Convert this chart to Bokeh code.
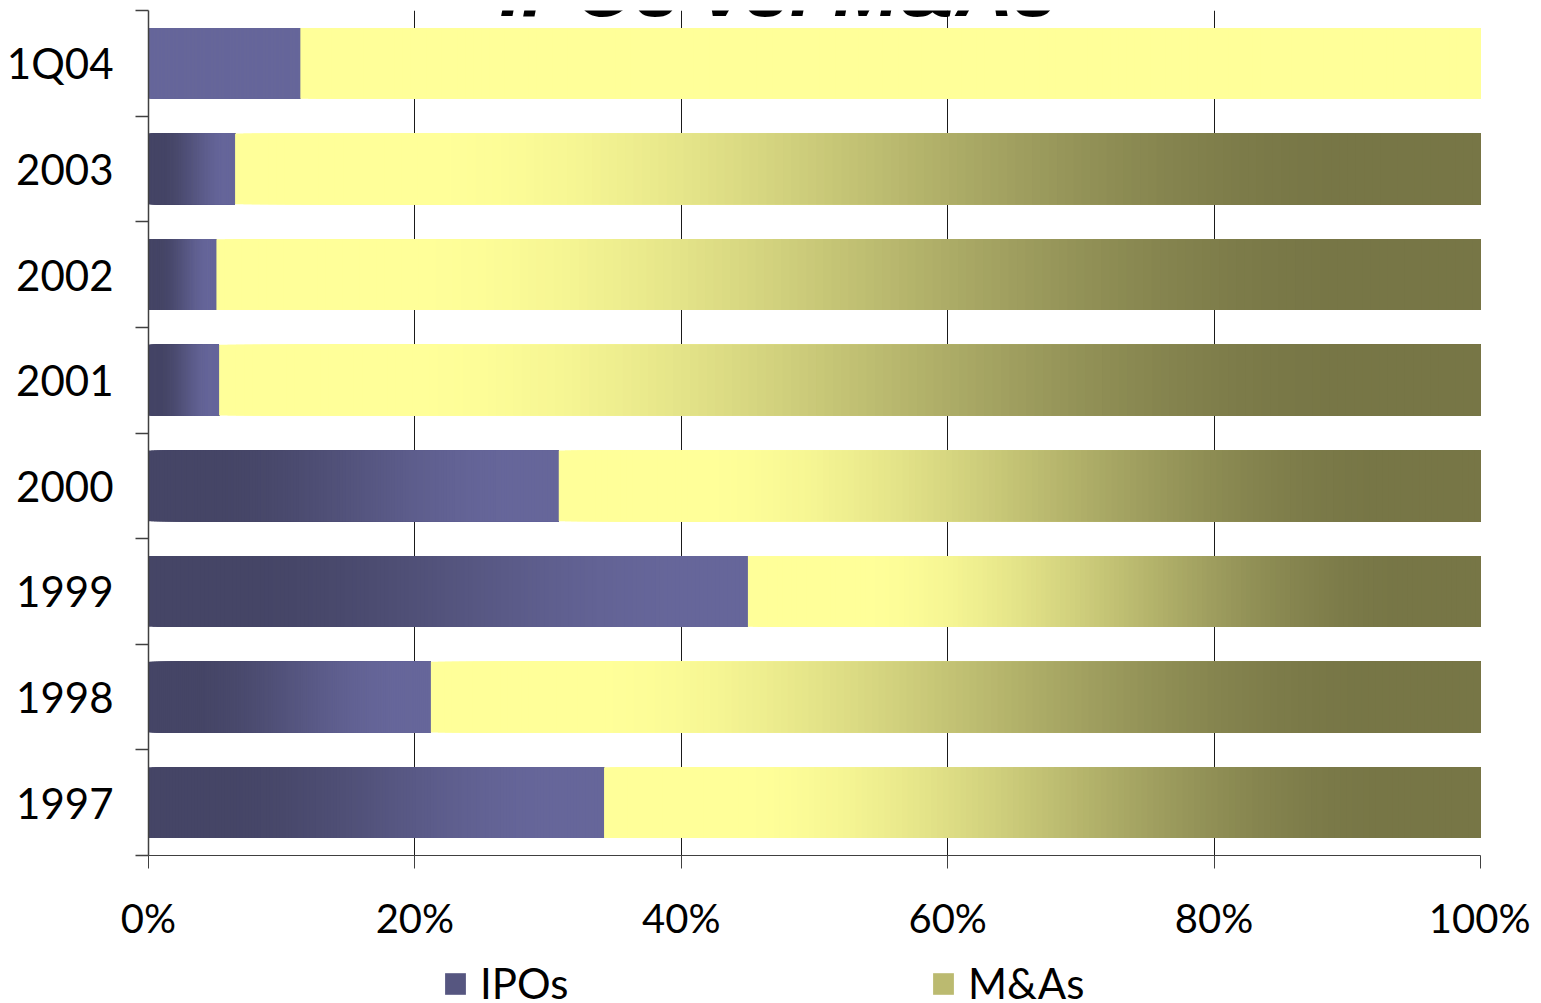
from bokeh.plotting import figure
from bokeh.layouts import column
from bokeh.models import Range1d, FixedTicker, Label, Legend, LegendItem, ColumnDataSource
from bokeh.embed import file_html
from bokeh.resources import INLINE

# ---- data -------------------------------------------------------------
categories = ["1997", "1998", "1999", "2000", "2001", "2002", "2003", "1Q04"]
ipo_share = [34.2, 21.2, 45.0, 30.8, 5.3, 5.1, 6.5, 11.4]
ma_share = [65.8, 78.8, 55.0, 69.2, 94.7, 94.9, 93.5, 88.6]
gradient_fill = [True, True, True, True, True, True, True, False]
x_ticks = [0, 20, 40, 60, 80, 100]
x_tick_labels = ["0%", "20%", "40%", "60%", "80%", "100%"]
title_text = "IPOs vs. M&As"
series_names = ["IPOs", "M&As"]

# ---- styles -----------------------------------------------------------
IPO_DARK = (69, 69, 102)
IPO_LIGHT = (102, 102, 154)
MA_LIGHT = (255, 255, 153)
MA_DARK = (119, 118, 70)
N_STEPS = 150
BAR_H = 0.67
W = 1530


def hexc(c):
    return "#%02x%02x%02x" % tuple(int(round(v)) for v in c)


def ease(t):
    s = min(max((t - 0.15) / 0.75, 0.0), 1.0)
    return 3 * s * s - 2 * s * s * s


def mix(c0, c1, t):
    return tuple(a + (b - a) * t for a, b in zip(c0, c1))


def gradient_source(starts, widths, c0, c1, flat, grads):
    d = dict(y=[], left=[], right=[], color=[])
    for i, (s, w, g) in enumerate(zip(starts, widths, grads)):
        for k in range(N_STEPS):
            t = (k + 0.5) / N_STEPS
            d["y"].append(i + 0.5)
            d["left"].append(s + w * k / N_STEPS)
            d["right"].append(s + w)
            d["color"].append(hexc(mix(c0, c1, ease(t))) if g else hexc(flat))
    return ColumnDataSource(d)


ipo_src = gradient_source([0] * len(ipo_share), ipo_share, IPO_DARK, IPO_LIGHT, IPO_LIGHT, gradient_fill)
ma_src = gradient_source(ipo_share, ma_share, MA_LIGHT, MA_DARK, MA_LIGHT, gradient_fill)

p = figure(width=W, height=955, output_backend="svg", toolbar_location=None,
           x_range=Range1d(0, 100), y_range=Range1d(0, len(categories)),
           min_border_left=148, min_border_right=W - 1480, min_border_top=10, min_border_bottom=100)
p.title = None
p.outline_line_color = None
p.background_fill_color = "white"

r_ipo = p.hbar(y="y", left="left", right="right", height=BAR_H, fill_color="color",
               line_color=None, source=ipo_src)
r_ma = p.hbar(y="y", left="left", right="right", height=BAR_H, fill_color="color",
              line_color=None, source=ma_src)

# grid
p.xgrid.ticker = FixedTicker(ticks=x_ticks)
p.xgrid.grid_line_color = "#1a1a1a"
p.xgrid.grid_line_width = 1
p.ygrid.grid_line_color = None

# x axis
xa = p.xaxis[0]
xa.ticker = FixedTicker(ticks=x_ticks)
xa.major_label_overrides = {t: l for t, l in zip(x_ticks, x_tick_labels)}
xa.axis_line_color = "#404040"
xa.major_tick_line_color = "#404040"
xa.major_tick_in = 0
xa.major_tick_out = 13
xa.minor_tick_line_color = None
xa.major_label_text_font = "Lato"
xa.major_label_text_font_size = "40px"
xa.major_label_text_color = "black"
xa.major_label_standoff = 25

# y axis
ya = p.yaxis[0]
centers = [i + 0.5 for i in range(len(categories))]
bounds = list(range(len(categories) + 1))
ya.ticker = FixedTicker(ticks=centers, minor_ticks=bounds)
ya.major_label_overrides = {c: n for c, n in zip(centers, categories)}
ya.axis_line_color = "#404040"
ya.axis_line_width = 1.5
ya.major_tick_in = 0
ya.major_tick_out = 0
ya.minor_tick_in = 0
ya.minor_tick_out = 13
ya.minor_tick_line_color = "#404040"
ya.minor_tick_line_width = 1.5
ya.major_label_text_font = "Lato"
ya.major_label_text_font_size = "42px"
ya.major_label_text_color = "black"
ya.major_label_standoff = 22

# title (partly cut off at the top, as in the original)
p.add_layout(Label(x=47.3, y=len(categories) + 0.21, text=title_text,
                   text_font="Liberation Sans", text_font_style="bold italic",
                   text_font_size="79px", text_align="center", text_baseline="alphabetic",
                   text_color="black"))

# ---- legend strip below the chart ------------------------------------
leg = figure(width=W, height=48, output_backend="svg", toolbar_location=None,
             x_range=Range1d(0, 10), y_range=Range1d(0, 10),
             min_border_left=0, min_border_right=0, min_border_top=0, min_border_bottom=0)
leg.title = None
leg.axis.visible = False
leg.grid.visible = False
leg.outline_line_color = None

# off-screen stand-ins that only give the legend its swatch colours
sw_ipo = leg.hbar(y=[-100], left=[-100], right=[-99], height=1, line_color=None,
                  fill_color=hexc(mix(IPO_DARK, IPO_LIGHT, 0.5)))
sw_ma = leg.hbar(y=[-100], left=[-100], right=[-99], height=1, line_color=None,
                 fill_color=hexc(mix(MA_LIGHT, MA_DARK, 0.5)))

legend = Legend(items=[LegendItem(label=series_names[0], renderers=[sw_ipo]),
                       LegendItem(label=series_names[1], renderers=[sw_ma])],
                orientation="horizontal", location=(294, -5),
                glyph_width=26, glyph_height=27, label_standoff=12, label_width=400, spacing=50,
                padding=0, margin=0, border_line_color=None, background_fill_alpha=0,
                label_text_font="Lato", label_text_font_size="42px", label_text_color="black")
leg.add_layout(legend)

open("out.html", "w").write(file_html(column(p, leg), INLINE))
